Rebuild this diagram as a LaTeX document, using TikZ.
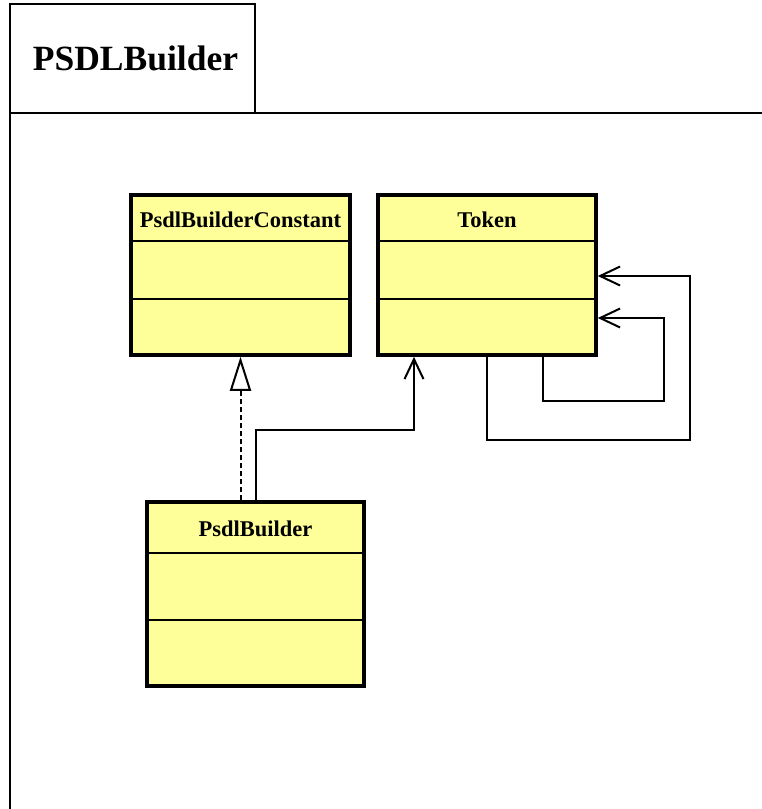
\documentclass[tikz,border=0pt]{standalone}
\usepackage{fontspec}
\setmainfont{Liberation Serif}
\usetikzlibrary{arrows.meta,calc}
\definecolor{classfill}{RGB}{255,255,153}
\tikzset{
  classbox/.style={draw=black, line width=3.5pt, fill=classfill, rectangle, inner sep=0pt},
  classtitle/.style={font=\bfseries\fontsize{22.5}{26}\selectfont, anchor=center, inner sep=0pt},
  sepline/.style={line width=1.8pt},
  frameline/.style={line width=2pt},
  assoc/.style={line width=2pt, -{Straight Barb[length=20pt,width=19pt,line width=2pt]}},
  realize/.style={line width=2pt, dash pattern=on 5pt off 3pt, -{Triangle[open,length=34pt,width=21pt,line width=2pt,fill=white]}},
}
\begin{document}
\begin{tikzpicture}[x=1pt,y=-1pt]
\useasboundingbox (0,0) rectangle (762,809);
\begin{scope}
\clip (0,0) rectangle (762,809);
% package frame
\node[draw, frameline, rectangle, minimum width=245pt, minimum height=109pt, inner sep=0pt] (tab) at (132.5,58.5) {};
\node[font=\bfseries\fontsize{35.5}{40}\selectfont, inner sep=0pt] (pkgname) at (135.5,58.5) {PSDLBuilder};
\draw[frameline] (780,113) -- (10,113) -- (10,830);

% classes
\node[classbox, minimum width=219pt, minimum height=160pt] (pbc) at (240.5,275) {};
\node[classtitle] (pbct) at (240.5,220) {PsdlBuilderConstant};
\draw[sepline] (131,241) -- (350,241);
\draw[sepline] (131,299) -- (350,299);

\node[classbox, minimum width=218pt, minimum height=160pt] (tok) at (487,275) {};
\node[classtitle] (tokt) at (487,220) {Token};
\draw[sepline] (378,241) -- (596,241);
\draw[sepline] (378,299) -- (596,299);

\node[classbox, minimum width=217pt, minimum height=184pt] (pb) at (255.5,594) {};
\node[classtitle] (pbt) at (255.5,529) {PsdlBuilder};
\draw[sepline] (147,553) -- (364,553);
\draw[sepline] (147,620) -- (364,620);
\end{scope}

% connectors
\draw[realize] (pbc.south |- pb.north) -- (pbc.south);

\coordinate (a1) at (414,430);
\draw[assoc] (pb.north) |- (a1) -- (a1 |- tok.south);

\coordinate (l1a) at (543,401);
\coordinate (l1b) at (664,318);
\draw[assoc] (l1a |- tok.south) -- (l1a) -| (l1b) -- (l1b -| tok.east);

\coordinate (l2a) at (487,440);
\coordinate (l2b) at (690,276);
\draw[assoc] (tok.south) -- (l2a) -| (l2b) -- (l2b -| tok.east);
\end{tikzpicture}
\end{document}
